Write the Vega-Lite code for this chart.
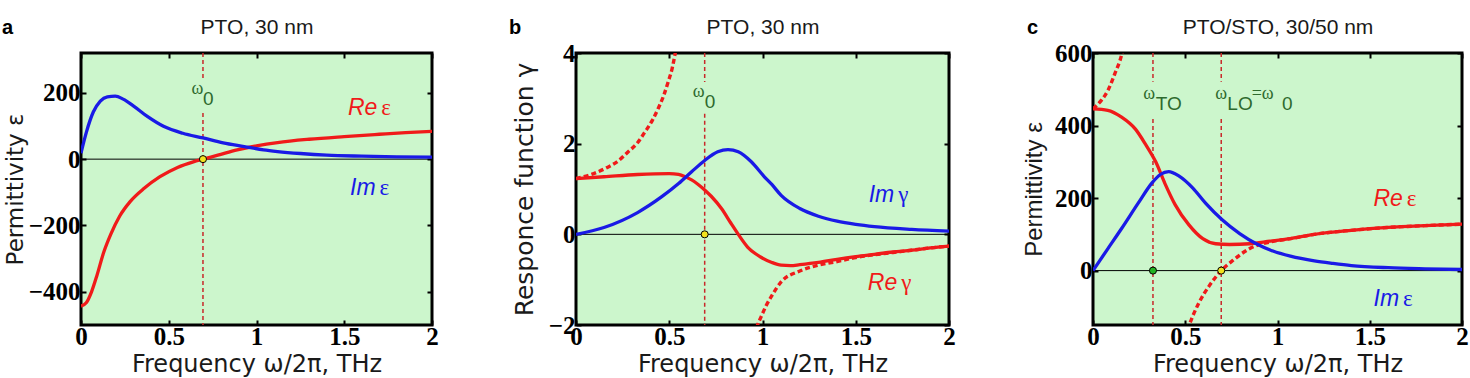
{
  "$schema": "https://vega.github.io/schema/vega-lite/v6.json",
  "background": "white",
  "padding": {"left": 0, "top": 14, "right": 4, "bottom": 0},
  "datasets": {
    "zero": [{"y": 0}],
    "a_curves": [
      {"x": 0, "y": -443, "s": "Re"}, {"x": 0.03, "y": -433, "s": "Re"}, {"x": 0.06, "y": -400, "s": "Re"},
      {"x": 0.09, "y": -352, "s": "Re"}, {"x": 0.13, "y": -280, "s": "Re"}, {"x": 0.17, "y": -226, "s": "Re"},
      {"x": 0.22, "y": -172, "s": "Re"}, {"x": 0.28, "y": -128, "s": "Re"}, {"x": 0.36, "y": -88, "s": "Re"},
      {"x": 0.45, "y": -53, "s": "Re"}, {"x": 0.55, "y": -25, "s": "Re"}, {"x": 0.64, "y": -8, "s": "Re"},
      {"x": 0.695, "y": 0, "s": "Re"}, {"x": 0.78, "y": 12, "s": "Re"}, {"x": 0.89, "y": 28, "s": "Re"},
      {"x": 1.0, "y": 40, "s": "Re"}, {"x": 1.12, "y": 50, "s": "Re"}, {"x": 1.3, "y": 60, "s": "Re"},
      {"x": 1.5, "y": 68, "s": "Re"}, {"x": 1.7, "y": 75, "s": "Re"}, {"x": 1.85, "y": 80, "s": "Re"},
      {"x": 2.0, "y": 84, "s": "Re"},
      {"x": 0, "y": 18, "s": "Im"}, {"x": 0.03, "y": 80, "s": "Im"}, {"x": 0.07, "y": 142, "s": "Im"},
      {"x": 0.11, "y": 175, "s": "Im"}, {"x": 0.15, "y": 188, "s": "Im"}, {"x": 0.195, "y": 190, "s": "Im"},
      {"x": 0.24, "y": 181, "s": "Im"}, {"x": 0.3, "y": 160, "s": "Im"}, {"x": 0.38, "y": 128, "s": "Im"},
      {"x": 0.47, "y": 99, "s": "Im"}, {"x": 0.58, "y": 78, "s": "Im"}, {"x": 0.695, "y": 64, "s": "Im"},
      {"x": 0.81, "y": 49, "s": "Im"}, {"x": 0.93, "y": 38, "s": "Im"}, {"x": 1.04, "y": 28, "s": "Im"},
      {"x": 1.12, "y": 23, "s": "Im"}, {"x": 1.25, "y": 17, "s": "Im"}, {"x": 1.4, "y": 12, "s": "Im"},
      {"x": 1.6, "y": 9, "s": "Im"}, {"x": 1.8, "y": 7, "s": "Im"}, {"x": 2.0, "y": 6, "s": "Im"}
    ],
    "b_curves": [
      {"x": 0, "y": 1.23, "s": "Re"}, {"x": 0.15, "y": 1.27, "s": "Re"}, {"x": 0.33, "y": 1.32, "s": "Re"},
      {"x": 0.5, "y": 1.34, "s": "Re"}, {"x": 0.55, "y": 1.32, "s": "Re"}, {"x": 0.585, "y": 1.27, "s": "Re"},
      {"x": 0.62, "y": 1.2, "s": "Re"}, {"x": 0.655, "y": 1.1, "s": "Re"}, {"x": 0.69, "y": 0.98, "s": "Re"},
      {"x": 0.725, "y": 0.84, "s": "Re"}, {"x": 0.78, "y": 0.57, "s": "Re"}, {"x": 0.83, "y": 0.25, "s": "Re"},
      {"x": 0.87, "y": 0, "s": "Re"}, {"x": 0.92, "y": -0.28, "s": "Re"}, {"x": 0.99, "y": -0.5, "s": "Re"},
      {"x": 1.05, "y": -0.62, "s": "Re"}, {"x": 1.1, "y": -0.68, "s": "Re"}, {"x": 1.15, "y": -0.69, "s": "Re"},
      {"x": 1.2, "y": -0.67, "s": "Re"}, {"x": 1.3, "y": -0.62, "s": "Re"}, {"x": 1.4, "y": -0.55, "s": "Re"},
      {"x": 1.5, "y": -0.49, "s": "Re"}, {"x": 1.6, "y": -0.44, "s": "Re"}, {"x": 1.7, "y": -0.39, "s": "Re"},
      {"x": 1.8, "y": -0.35, "s": "Re"}, {"x": 1.9, "y": -0.3, "s": "Re"}, {"x": 2.0, "y": -0.26, "s": "Re"},
      {"x": 0, "y": 0, "s": "Im"}, {"x": 0.15, "y": 0.15, "s": "Im"}, {"x": 0.33, "y": 0.48, "s": "Im"},
      {"x": 0.46, "y": 0.83, "s": "Im"}, {"x": 0.55, "y": 1.12, "s": "Im"}, {"x": 0.62, "y": 1.38, "s": "Im"},
      {"x": 0.69, "y": 1.63, "s": "Im"}, {"x": 0.76, "y": 1.82, "s": "Im"}, {"x": 0.815, "y": 1.87, "s": "Im"},
      {"x": 0.87, "y": 1.82, "s": "Im"}, {"x": 0.94, "y": 1.6, "s": "Im"}, {"x": 1.01, "y": 1.27, "s": "Im"},
      {"x": 1.05, "y": 1.1, "s": "Im"}, {"x": 1.1, "y": 0.86, "s": "Im"}, {"x": 1.2, "y": 0.57, "s": "Im"},
      {"x": 1.3, "y": 0.4, "s": "Im"}, {"x": 1.4, "y": 0.29, "s": "Im"}, {"x": 1.5, "y": 0.22, "s": "Im"},
      {"x": 1.6, "y": 0.17, "s": "Im"}, {"x": 1.8, "y": 0.11, "s": "Im"}, {"x": 2.0, "y": 0.07, "s": "Im"}
    ],
    "b_undamped": [
      {"x": 0, "y": 1.23, "branch": "low"}, {"x": 0.08, "y": 1.32, "branch": "low"}, {"x": 0.16, "y": 1.46, "branch": "low"},
      {"x": 0.22, "y": 1.6, "branch": "low"}, {"x": 0.28, "y": 1.82, "branch": "low"}, {"x": 0.33, "y": 2.02, "branch": "low"},
      {"x": 0.37, "y": 2.26, "branch": "low"}, {"x": 0.41, "y": 2.52, "branch": "low"}, {"x": 0.44, "y": 2.77, "branch": "low"},
      {"x": 0.47, "y": 3.06, "branch": "low"}, {"x": 0.494, "y": 3.36, "branch": "low"}, {"x": 0.515, "y": 3.65, "branch": "low"},
      {"x": 0.53, "y": 3.95, "branch": "low"}, {"x": 0.545, "y": 4.3, "branch": "low"},
      {"x": 0.94, "y": -2.4, "branch": "high"}, {"x": 0.966, "y": -2.08, "branch": "high"}, {"x": 1.0, "y": -1.75, "branch": "high"},
      {"x": 1.02, "y": -1.57, "branch": "high"}, {"x": 1.046, "y": -1.38, "branch": "high"}, {"x": 1.1, "y": -1.05, "branch": "high"},
      {"x": 1.2, "y": -0.81, "branch": "high"}, {"x": 1.3, "y": -0.68, "branch": "high"}, {"x": 1.4, "y": -0.6, "branch": "high"},
      {"x": 1.5, "y": -0.51, "branch": "high"}, {"x": 1.6, "y": -0.45, "branch": "high"}, {"x": 1.7, "y": -0.4, "branch": "high"},
      {"x": 1.8, "y": -0.35, "branch": "high"}, {"x": 1.9, "y": -0.3, "branch": "high"}, {"x": 2.0, "y": -0.26, "branch": "high"}
    ],
    "c_curves": [
      {"x": 0, "y": 446, "s": "Re"}, {"x": 0.08, "y": 442, "s": "Re"}, {"x": 0.155, "y": 423, "s": "Re"},
      {"x": 0.23, "y": 390, "s": "Re"}, {"x": 0.285, "y": 348, "s": "Re"}, {"x": 0.34, "y": 300, "s": "Re"},
      {"x": 0.39, "y": 240, "s": "Re"}, {"x": 0.445, "y": 182, "s": "Re"}, {"x": 0.52, "y": 126, "s": "Re"},
      {"x": 0.595, "y": 88, "s": "Re"}, {"x": 0.665, "y": 74, "s": "Re"}, {"x": 0.74, "y": 72, "s": "Re"},
      {"x": 0.85, "y": 74, "s": "Re"}, {"x": 0.96, "y": 81, "s": "Re"}, {"x": 1.07, "y": 88, "s": "Re"},
      {"x": 1.2, "y": 100, "s": "Re"}, {"x": 1.4, "y": 111, "s": "Re"}, {"x": 1.6, "y": 119, "s": "Re"},
      {"x": 1.8, "y": 124, "s": "Re"}, {"x": 2.0, "y": 128, "s": "Re"},
      {"x": 0, "y": 0, "s": "Im"}, {"x": 0.08, "y": 60, "s": "Im"}, {"x": 0.155, "y": 116, "s": "Im"},
      {"x": 0.245, "y": 186, "s": "Im"}, {"x": 0.32, "y": 242, "s": "Im"}, {"x": 0.365, "y": 265, "s": "Im"},
      {"x": 0.41, "y": 273, "s": "Im"}, {"x": 0.465, "y": 261, "s": "Im"}, {"x": 0.54, "y": 228, "s": "Im"},
      {"x": 0.61, "y": 186, "s": "Im"}, {"x": 0.7, "y": 140, "s": "Im"}, {"x": 0.795, "y": 102, "s": "Im"},
      {"x": 0.885, "y": 74, "s": "Im"}, {"x": 0.975, "y": 54, "s": "Im"}, {"x": 1.07, "y": 40, "s": "Im"},
      {"x": 1.2, "y": 27, "s": "Im"}, {"x": 1.3, "y": 20, "s": "Im"}, {"x": 1.4, "y": 14, "s": "Im"},
      {"x": 1.6, "y": 8, "s": "Im"}, {"x": 1.8, "y": 5, "s": "Im"}, {"x": 2.0, "y": 3, "s": "Im"}
    ],
    "c_undamped": [
      {"x": 0, "y": 446, "branch": "low"}, {"x": 0.046, "y": 470, "branch": "low"}, {"x": 0.082, "y": 498, "branch": "low"},
      {"x": 0.119, "y": 544, "branch": "low"}, {"x": 0.155, "y": 595, "branch": "low"}, {"x": 0.17, "y": 630, "branch": "low"},
      {"x": 0.5, "y": -185, "branch": "high"}, {"x": 0.52, "y": -153, "branch": "high"}, {"x": 0.575, "y": -88, "branch": "high"},
      {"x": 0.63, "y": -42, "branch": "high"}, {"x": 0.695, "y": 0, "branch": "high"}, {"x": 0.758, "y": 28, "branch": "high"},
      {"x": 0.85, "y": 61, "branch": "high"}, {"x": 0.96, "y": 79, "branch": "high"}, {"x": 1.07, "y": 88, "branch": "high"},
      {"x": 1.2, "y": 100, "branch": "high"}, {"x": 1.4, "y": 111, "branch": "high"}, {"x": 1.6, "y": 119, "branch": "high"},
      {"x": 1.8, "y": 124, "branch": "high"}, {"x": 2.0, "y": 128, "branch": "high"}
    ],
    "a_vlines": [{"x": 0.695, "y1": 320, "y2": 236}, {"x": 0.695, "y1": 139, "y2": -500}],
    "b_vlines": [{"x": 0.69, "y1": 4, "y2": 3.36}, {"x": 0.69, "y1": 2.66, "y2": -2}],
    "c_vlines": [
      {"x": 0.325, "y1": 600, "y2": 521}, {"x": 0.325, "y1": 418, "y2": -150},
      {"x": 0.695, "y1": 600, "y2": 521}, {"x": 0.695, "y1": 418, "y2": -150}
    ],
    "a_points": [{"x": 0.695, "y": 0, "k": "LO"}],
    "b_points": [{"x": 0.69, "y": 0, "k": "LO"}],
    "c_points": [{"x": 0.325, "y": 0, "k": "TO"}, {"x": 0.695, "y": 0, "k": "LO"}],
    "a_freq": [{"x": 0.63, "y": 197, "t": "ω", "part": "base"}, {"x": 0.695, "y": 197, "t": "0", "part": "sub"}],
    "b_freq": [{"x": 0.626, "y": 3.04, "t": "ω", "part": "base"}, {"x": 0.69, "y": 3.04, "t": "0", "part": "sub"}],
    "c_freq": [
      {"x": 0.272, "y": 473, "t": "ω", "part": "base"}, {"x": 0.34, "y": 473, "t": "TO", "part": "sub"},
      {"x": 0.662, "y": 473, "t": "ω", "part": "base"}, {"x": 0.728, "y": 473, "t": "LO", "part": "sub"},
      {"x": 0.86, "y": 473, "t": "=ω", "part": "base"}, {"x": 1.025, "y": 473, "t": "0", "part": "sub"}
    ],
    "a_names": [{"x": 1.7, "y": 133, "w": "Re", "g": "ε", "s": "Re"}, {"x": 1.69, "y": -109, "w": "Im", "g": "ε", "s": "Im"}],
    "b_names": [{"x": 1.717, "y": 0.71, "w": "Im", "g": "γ", "s": "Im"}, {"x": 1.733, "y": -1.22, "w": "Re", "g": "γ", "s": "Re"}],
    "c_names": [{"x": 1.69, "y": 179, "w": "Re", "g": "ε", "s": "Re"}, {"x": 1.67, "y": -97, "w": "Im", "g": "ε", "s": "Im"}]
  },
  "hconcat": [
    {
      "width": 351, "height": 272,
      "title": {"text": "a", "dx": -79},
      "layer": [
        {"data": {"name": "zero"}, "mark": {"type": "rule", "color": "black", "strokeWidth": 1},
         "encoding": {"y": {"field": "y", "type": "quantitative", "scale": {"domain": [-500, 320], "nice": false, "zero": false}, "axis": null}}},
        {"data": {"name": "a_vlines"},
         "mark": {"type": "rule", "color": "#c8282a", "strokeWidth": 1.5, "strokeDash": [4, 3]},
         "encoding": {
           "x": {"field": "x", "type": "quantitative", "scale": {"domain": [0, 2], "nice": false, "zero": false}, "axis": null},
           "y": {"field": "y1", "type": "quantitative", "scale": {"domain": [-500, 320], "nice": false, "zero": false}, "axis": null},
           "y2": {"field": "y2"}}},
        {"data": {"name": "a_curves"},
         "mark": {"type": "line", "strokeWidth": 3.3, "clip": true, "interpolate": "monotone"},
         "encoding": {
           "x": {"field": "x", "type": "quantitative", "scale": {"domain": [0, 2], "nice": false, "zero": false},
                 "axis": {"orient": "bottom", "values": [0, 0.5, 1, 1.5, 2], "format": "~g", "labelFlush": false, "labelPadding": 4, "title": "Frequency ω/2π, THz", "titlePadding": 3}},
           "y": {"field": "y", "type": "quantitative", "scale": {"domain": [-500, 320], "nice": false, "zero": false},
                 "axis": {"orient": "left", "values": [-400, -200, 0, 200], "labelPadding": 6, "title": "Permittivity ε", "titlePadding": 1, "titleFont": "DejaVu Sans", "titleFontSize": 23}},
           "color": {"field": "s", "type": "nominal", "scale": {"domain": ["Re", "Im"], "range": ["#f01a1a", "#1a1ae6"]}, "legend": null}}},
        {"data": {"name": "a_points"},
         "mark": {"type": "circle", "size": 50, "stroke": "black", "strokeWidth": 1, "opacity": 1},
         "encoding": {
           "x": {"field": "x", "type": "quantitative", "scale": {"domain": [0, 2], "nice": false, "zero": false},
                 "axis": {"orient": "top", "values": [0, 0.5, 1, 1.5, 2], "labels": false, "title": "PTO, 30 nm", "titlePadding": 15, "titleFont": "Liberation Sans", "titleFontSize": 21}},
           "y": {"field": "y", "type": "quantitative", "scale": {"domain": [-500, 320], "nice": false, "zero": false},
                 "axis": {"orient": "right", "values": [-400, -200, 0, 200], "labels": false, "title": null}},
           "fill": {"field": "k", "type": "nominal", "scale": {"domain": ["TO", "LO"], "range": ["#22b422", "#f2e21e"]}, "legend": null}}},
        {"data": {"name": "a_freq"}, "transform": [{"filter": "datum.part === 'base'"}],
         "mark": {"type": "text", "align": "left", "baseline": "alphabetic", "font": "Liberation Serif", "fontSize": 18, "color": "#2e6a2e"},
         "encoding": {"x": {"field": "x", "type": "quantitative", "axis": null}, "y": {"field": "y", "type": "quantitative", "axis": null}, "text": {"field": "t"}}},
        {"data": {"name": "a_freq"}, "transform": [{"filter": "datum.part === 'sub'"}],
         "mark": {"type": "text", "align": "left", "baseline": "alphabetic", "font": "Liberation Sans", "fontSize": 19, "dy": 11, "color": "#2e6a2e"},
         "encoding": {"x": {"field": "x", "type": "quantitative", "axis": null}, "y": {"field": "y", "type": "quantitative", "axis": null}, "text": {"field": "t"}}},
        {"data": {"name": "a_names"},
         "mark": {"type": "text", "align": "right", "baseline": "alphabetic", "font": "Liberation Sans", "fontStyle": "italic", "fontSize": 23, "dx": -2},
         "encoding": {"x": {"field": "x", "type": "quantitative", "axis": null}, "y": {"field": "y", "type": "quantitative", "axis": null}, "text": {"field": "w"},
           "color": {"field": "s", "type": "nominal", "scale": {"domain": ["Re", "Im"], "range": ["#f01a1a", "#1a1ae6"]}, "legend": null}}},
        {"data": {"name": "a_names"},
         "mark": {"type": "text", "align": "left", "baseline": "alphabetic", "font": "Liberation Serif", "fontSize": 23, "dx": 2},
         "encoding": {"x": {"field": "x", "type": "quantitative", "axis": null}, "y": {"field": "y", "type": "quantitative", "axis": null}, "text": {"field": "g"},
           "color": {"field": "s", "type": "nominal", "scale": {"domain": ["Re", "Im"], "range": ["#f01a1a", "#1a1ae6"]}, "legend": null}}}
      ],
      "resolve": {"axis": {"x": "independent", "y": "independent"}}
    },
    {
      "width": 373, "height": 272,
      "title": {"text": "b", "dx": -67},
      "layer": [
        {"data": {"name": "zero"}, "mark": {"type": "rule", "color": "black", "strokeWidth": 1},
         "encoding": {"y": {"field": "y", "type": "quantitative", "scale": {"domain": [-2, 4], "nice": false, "zero": false}, "axis": null}}},
        {"data": {"name": "b_vlines"},
         "mark": {"type": "rule", "color": "#c8282a", "strokeWidth": 1.5, "strokeDash": [4, 3]},
         "encoding": {
           "x": {"field": "x", "type": "quantitative", "scale": {"domain": [0, 2], "nice": false, "zero": false}, "axis": null},
           "y": {"field": "y1", "type": "quantitative", "scale": {"domain": [-2, 4], "nice": false, "zero": false}, "axis": null},
           "y2": {"field": "y2"}}},
        {"data": {"name": "b_undamped"},
         "mark": {"type": "line", "strokeWidth": 3.4, "strokeDash": [5, 3], "color": "#f01a1a", "clip": true, "interpolate": "monotone"},
         "encoding": {
           "x": {"field": "x", "type": "quantitative", "scale": {"domain": [0, 2], "nice": false, "zero": false}, "axis": null},
           "y": {"field": "y", "type": "quantitative", "scale": {"domain": [-2, 4], "nice": false, "zero": false}, "axis": null},
           "detail": {"field": "branch"}}},
        {"data": {"name": "b_curves"},
         "mark": {"type": "line", "strokeWidth": 3.3, "clip": true, "interpolate": "monotone"},
         "encoding": {
           "x": {"field": "x", "type": "quantitative", "scale": {"domain": [0, 2], "nice": false, "zero": false},
                 "axis": {"orient": "bottom", "values": [0, 0.5, 1, 1.5, 2], "format": "~g", "labelFlush": false, "labelPadding": 4, "title": "Frequency ω/2π, THz", "titlePadding": 3}},
           "y": {"field": "y", "type": "quantitative", "scale": {"domain": [-2, 4], "nice": false, "zero": false},
                 "axis": {"orient": "left", "values": [-2, 0, 2, 4], "labelPadding": 6, "title": "Responce function γ", "titlePadding": 11, "titleFont": "DejaVu Sans", "titleFontSize": 25}},
           "color": {"field": "s", "type": "nominal", "scale": {"domain": ["Re", "Im"], "range": ["#f01a1a", "#1a1ae6"]}, "legend": null}}},
        {"data": {"name": "b_points"},
         "mark": {"type": "circle", "size": 50, "stroke": "black", "strokeWidth": 1, "opacity": 1},
         "encoding": {
           "x": {"field": "x", "type": "quantitative", "scale": {"domain": [0, 2], "nice": false, "zero": false},
                 "axis": {"orient": "top", "values": [0, 0.5, 1, 1.5, 2], "labels": false, "title": "PTO, 30 nm", "titlePadding": 15, "titleFont": "Liberation Sans", "titleFontSize": 21}},
           "y": {"field": "y", "type": "quantitative", "scale": {"domain": [-2, 4], "nice": false, "zero": false},
                 "axis": {"orient": "right", "values": [-2, 0, 2, 4], "labels": false, "title": null}},
           "fill": {"field": "k", "type": "nominal", "scale": {"domain": ["TO", "LO"], "range": ["#22b422", "#f2e21e"]}, "legend": null}}},
        {"data": {"name": "b_freq"}, "transform": [{"filter": "datum.part === 'base'"}],
         "mark": {"type": "text", "align": "left", "baseline": "alphabetic", "font": "Liberation Serif", "fontSize": 18, "color": "#2e6a2e"},
         "encoding": {"x": {"field": "x", "type": "quantitative", "axis": null}, "y": {"field": "y", "type": "quantitative", "axis": null}, "text": {"field": "t"}}},
        {"data": {"name": "b_freq"}, "transform": [{"filter": "datum.part === 'sub'"}],
         "mark": {"type": "text", "align": "left", "baseline": "alphabetic", "font": "Liberation Sans", "fontSize": 19, "dy": 11, "color": "#2e6a2e"},
         "encoding": {"x": {"field": "x", "type": "quantitative", "axis": null}, "y": {"field": "y", "type": "quantitative", "axis": null}, "text": {"field": "t"}}},
        {"data": {"name": "b_names"},
         "mark": {"type": "text", "align": "right", "baseline": "alphabetic", "font": "Liberation Sans", "fontStyle": "italic", "fontSize": 23, "dx": -2},
         "encoding": {"x": {"field": "x", "type": "quantitative", "axis": null}, "y": {"field": "y", "type": "quantitative", "axis": null}, "text": {"field": "w"},
           "color": {"field": "s", "type": "nominal", "scale": {"domain": ["Re", "Im"], "range": ["#f01a1a", "#1a1ae6"]}, "legend": null}}},
        {"data": {"name": "b_names"},
         "mark": {"type": "text", "align": "left", "baseline": "alphabetic", "font": "Liberation Serif", "fontSize": 23, "dx": 2},
         "encoding": {"x": {"field": "x", "type": "quantitative", "axis": null}, "y": {"field": "y", "type": "quantitative", "axis": null}, "text": {"field": "g"},
           "color": {"field": "s", "type": "nominal", "scale": {"domain": ["Re", "Im"], "range": ["#f01a1a", "#1a1ae6"]}, "legend": null}}}
      ],
      "resolve": {"axis": {"x": "independent", "y": "independent"}}
    },
    {
      "width": 369, "height": 272,
      "title": {"text": "c", "dx": -66},
      "layer": [
        {"data": {"name": "zero"}, "mark": {"type": "rule", "color": "black", "strokeWidth": 1},
         "encoding": {"y": {"field": "y", "type": "quantitative", "scale": {"domain": [-150, 600], "nice": false, "zero": false}, "axis": null}}},
        {"data": {"name": "c_vlines"},
         "mark": {"type": "rule", "color": "#c8282a", "strokeWidth": 1.5, "strokeDash": [4, 3]},
         "encoding": {
           "x": {"field": "x", "type": "quantitative", "scale": {"domain": [0, 2], "nice": false, "zero": false}, "axis": null},
           "y": {"field": "y1", "type": "quantitative", "scale": {"domain": [-150, 600], "nice": false, "zero": false}, "axis": null},
           "y2": {"field": "y2"}}},
        {"data": {"name": "c_undamped"},
         "mark": {"type": "line", "strokeWidth": 3.4, "strokeDash": [5, 3], "color": "#f01a1a", "clip": true, "interpolate": "monotone"},
         "encoding": {
           "x": {"field": "x", "type": "quantitative", "scale": {"domain": [0, 2], "nice": false, "zero": false}, "axis": null},
           "y": {"field": "y", "type": "quantitative", "scale": {"domain": [-150, 600], "nice": false, "zero": false}, "axis": null},
           "detail": {"field": "branch"}}},
        {"data": {"name": "c_curves"},
         "mark": {"type": "line", "strokeWidth": 3.3, "clip": true, "interpolate": "monotone"},
         "encoding": {
           "x": {"field": "x", "type": "quantitative", "scale": {"domain": [0, 2], "nice": false, "zero": false},
                 "axis": {"orient": "bottom", "values": [0, 0.5, 1, 1.5, 2], "format": "~g", "labelFlush": false, "labelPadding": 4, "title": "Frequency ω/2π, THz", "titlePadding": 3}},
           "y": {"field": "y", "type": "quantitative", "scale": {"domain": [-150, 600], "nice": false, "zero": false},
                 "axis": {"orient": "left", "values": [0, 200, 400, 600], "labelPadding": 6, "title": "Permittivity ε", "titlePadding": 8, "titleFont": "Liberation Sans", "titleFontSize": 24}},
           "color": {"field": "s", "type": "nominal", "scale": {"domain": ["Re", "Im"], "range": ["#f01a1a", "#1a1ae6"]}, "legend": null}}},
        {"data": {"name": "c_points"},
         "mark": {"type": "circle", "size": 50, "stroke": "black", "strokeWidth": 1, "opacity": 1},
         "encoding": {
           "x": {"field": "x", "type": "quantitative", "scale": {"domain": [0, 2], "nice": false, "zero": false},
                 "axis": {"orient": "top", "values": [0, 0.5, 1, 1.5, 2], "labels": false, "title": "PTO/STO, 30/50 nm", "titlePadding": 15, "titleFont": "Liberation Sans", "titleFontSize": 21}},
           "y": {"field": "y", "type": "quantitative", "scale": {"domain": [-150, 600], "nice": false, "zero": false},
                 "axis": {"orient": "right", "values": [0, 200, 400, 600], "labels": false, "title": null}},
           "fill": {"field": "k", "type": "nominal", "scale": {"domain": ["TO", "LO"], "range": ["#22b422", "#f2e21e"]}, "legend": null}}},
        {"data": {"name": "c_freq"}, "transform": [{"filter": "datum.part === 'base'"}],
         "mark": {"type": "text", "align": "left", "baseline": "alphabetic", "font": "Liberation Serif", "fontSize": 18, "color": "#2e6a2e"},
         "encoding": {"x": {"field": "x", "type": "quantitative", "axis": null}, "y": {"field": "y", "type": "quantitative", "axis": null}, "text": {"field": "t"}}},
        {"data": {"name": "c_freq"}, "transform": [{"filter": "datum.part === 'sub'"}],
         "mark": {"type": "text", "align": "left", "baseline": "alphabetic", "font": "Liberation Sans", "fontSize": 19, "dy": 11, "color": "#2e6a2e"},
         "encoding": {"x": {"field": "x", "type": "quantitative", "axis": null}, "y": {"field": "y", "type": "quantitative", "axis": null}, "text": {"field": "t"}}},
        {"data": {"name": "c_names"},
         "mark": {"type": "text", "align": "right", "baseline": "alphabetic", "font": "Liberation Sans", "fontStyle": "italic", "fontSize": 23, "dx": -2},
         "encoding": {"x": {"field": "x", "type": "quantitative", "axis": null}, "y": {"field": "y", "type": "quantitative", "axis": null}, "text": {"field": "w"},
           "color": {"field": "s", "type": "nominal", "scale": {"domain": ["Re", "Im"], "range": ["#f01a1a", "#1a1ae6"]}, "legend": null}}},
        {"data": {"name": "c_names"},
         "mark": {"type": "text", "align": "left", "baseline": "alphabetic", "font": "Liberation Serif", "fontSize": 23, "dx": 2},
         "encoding": {"x": {"field": "x", "type": "quantitative", "axis": null}, "y": {"field": "y", "type": "quantitative", "axis": null}, "text": {"field": "g"},
           "color": {"field": "s", "type": "nominal", "scale": {"domain": ["Re", "Im"], "range": ["#f01a1a", "#1a1ae6"]}, "legend": null}}}
      ],
      "resolve": {"axis": {"x": "independent", "y": "independent"}}
    }
  ],
  "spacing": 144,
  "bounds": "flush",
  "config": {
    "view": {"stroke": "black", "strokeWidth": 3, "fill": "#ccf6cc"},
    "axis": {
      "grid": false, "domain": false,
      "tickColor": "black", "tickWidth": 2, "tickSize": -5,
      "labelFont": "Liberation Serif", "labelFontWeight": "bold", "labelFontSize": 25, "labelColor": "black", "labelOverlap": false,
      "titleFont": "DejaVu Sans", "titleFontWeight": "normal", "titleFontSize": 24, "titleColor": "#1a1a1a"
    },
    "title": {"font": "Liberation Sans", "fontWeight": "bold", "fontSize": 20, "color": "black", "anchor": "start", "frame": "group", "dy": 26}
  }
}
